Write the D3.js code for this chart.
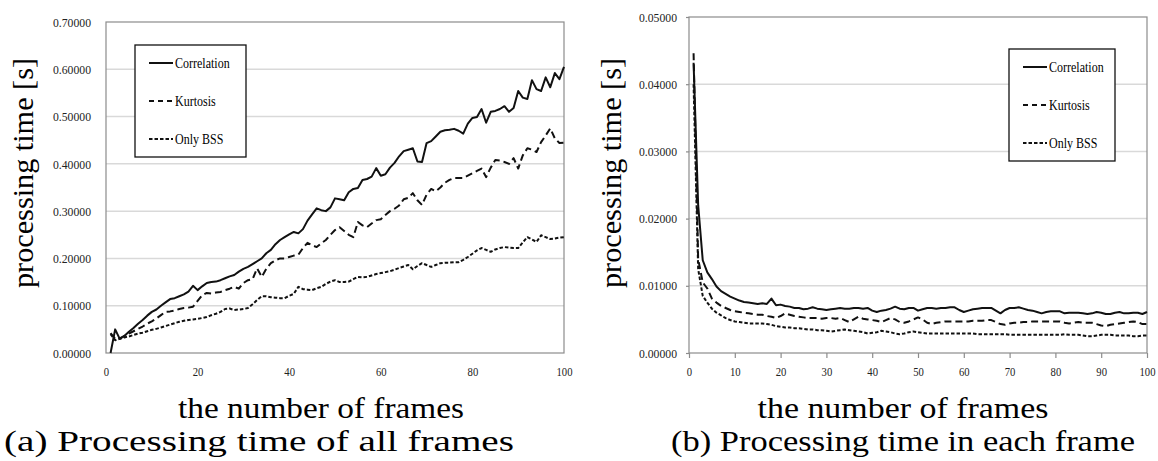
<!DOCTYPE html>
<html>
<head>
<meta charset="utf-8">
<script src="https://cdn.jsdelivr.net/npm/d3@7"></script>
<style>
body { margin: 0; background: #fff; }
</style>
</head>
<body>
<script>
var FONT = '"Liberation Serif", "Times New Roman", Times, "Nimbus Roman", "Nimbus Roman No9 L", Tinos, FreeSerif, "DejaVu Serif Condensed", "DejaVu Serif", serif';

var frames = d3.range(1, 101);
var seriesNames = ["Correlation", "Kurtosis", "Only BSS"];

// (a) cumulative processing time [s]
var allCorrelation = [0.000,0.050,0.030,0.036,0.045,0.053,0.062,0.070,0.079,0.087,
	0.092,0.100,0.107,0.114,0.116,0.120,0.124,0.130,0.142,0.133,
	0.141,0.148,0.150,0.151,0.154,0.158,0.162,0.165,0.172,0.178,
	0.182,0.188,0.194,0.200,0.211,0.218,0.230,0.239,0.245,0.251,
	0.256,0.253,0.262,0.280,0.293,0.306,0.302,0.300,0.308,0.327,
	0.325,0.323,0.340,0.347,0.349,0.366,0.368,0.373,0.391,0.375,
	0.378,0.392,0.402,0.416,0.427,0.430,0.433,0.405,0.404,0.444,
	0.448,0.458,0.468,0.471,0.472,0.474,0.470,0.464,0.485,0.497,
	0.499,0.516,0.487,0.510,0.512,0.516,0.522,0.510,0.518,0.554,
	0.540,0.537,0.577,0.558,0.554,0.583,0.562,0.592,0.579,0.605];
var allKurtosis = [0.042,0.030,0.031,0.036,0.041,0.046,0.051,0.056,0.062,0.067,
	0.073,0.080,0.087,0.088,0.090,0.093,0.095,0.096,0.098,0.110,
	0.122,0.127,0.126,0.128,0.129,0.133,0.136,0.140,0.136,0.148,
	0.154,0.156,0.179,0.161,0.178,0.190,0.196,0.200,0.200,0.203,
	0.206,0.208,0.222,0.233,0.228,0.224,0.232,0.239,0.250,0.260,
	0.266,0.258,0.250,0.245,0.277,0.270,0.266,0.274,0.281,0.283,
	0.292,0.300,0.305,0.312,0.325,0.328,0.338,0.323,0.313,0.335,
	0.347,0.342,0.350,0.360,0.366,0.370,0.370,0.370,0.375,0.380,
	0.385,0.390,0.372,0.392,0.408,0.407,0.404,0.400,0.412,0.390,
	0.418,0.433,0.430,0.425,0.446,0.460,0.475,0.454,0.444,0.445];
var allOnlyBSS = [0.040,0.027,0.030,0.033,0.035,0.038,0.041,0.043,0.046,0.049,
	0.051,0.054,0.057,0.060,0.063,0.066,0.068,0.070,0.071,0.072,
	0.074,0.076,0.080,0.083,0.087,0.093,0.094,0.091,0.092,0.093,
	0.095,0.103,0.112,0.120,0.120,0.118,0.117,0.116,0.116,0.121,
	0.125,0.140,0.135,0.134,0.133,0.137,0.140,0.146,0.151,0.154,
	0.150,0.150,0.151,0.156,0.161,0.160,0.161,0.164,0.167,0.169,
	0.171,0.173,0.176,0.180,0.183,0.186,0.177,0.184,0.190,0.186,
	0.182,0.186,0.190,0.191,0.191,0.192,0.192,0.197,0.203,0.210,
	0.217,0.222,0.218,0.214,0.219,0.222,0.224,0.223,0.222,0.222,
	0.234,0.245,0.240,0.235,0.249,0.245,0.241,0.242,0.244,0.245];

// (b) processing time per frame [s]
var eachCorrelation = [0.0432,0.0220,0.0138,0.0120,0.0110,0.0099,0.0092,0.0088,0.0084,0.0081,
	0.0078,0.0076,0.0075,0.0074,0.0073,0.0074,0.0073,0.0081,0.0071,0.0072,
	0.0070,0.0069,0.0067,0.0067,0.0065,0.0066,0.0068,0.0066,0.0065,0.0064,
	0.0065,0.0066,0.0067,0.0066,0.0066,0.0067,0.0067,0.0066,0.0067,0.0063,
	0.0061,0.0063,0.0064,0.0066,0.0069,0.0066,0.0065,0.0067,0.0067,0.0063,
	0.0065,0.0067,0.0067,0.0066,0.0067,0.0067,0.0068,0.0068,0.0064,0.0061,
	0.0063,0.0065,0.0066,0.0067,0.0067,0.0067,0.0063,0.0059,0.0064,0.0067,
	0.0067,0.0068,0.0066,0.0064,0.0063,0.0061,0.0059,0.0061,0.0062,0.0062,
	0.0062,0.0059,0.0060,0.0060,0.0060,0.0059,0.0058,0.0059,0.0061,0.0060,
	0.0058,0.0058,0.0060,0.0061,0.0059,0.0059,0.0060,0.0060,0.0058,0.0061];
var eachKurtosis = [0.0446,0.0140,0.0105,0.0096,0.0081,0.0075,0.0070,0.0067,0.0064,0.0062,
	0.0061,0.0060,0.0059,0.0058,0.0057,0.0057,0.0055,0.0054,0.0052,0.0055,
	0.0059,0.0057,0.0055,0.0054,0.0053,0.0052,0.0052,0.0052,0.0051,0.0052,
	0.0052,0.0051,0.0052,0.0049,0.0046,0.0050,0.0054,0.0051,0.0050,0.0049,
	0.0048,0.0046,0.0049,0.0052,0.0050,0.0046,0.0045,0.0047,0.0050,0.0053,
	0.0050,0.0045,0.0043,0.0045,0.0046,0.0047,0.0047,0.0047,0.0047,0.0047,
	0.0047,0.0048,0.0048,0.0048,0.0049,0.0049,0.0046,0.0043,0.0042,0.0044,
	0.0045,0.0045,0.0046,0.0046,0.0047,0.0047,0.0047,0.0047,0.0047,0.0047,
	0.0047,0.0045,0.0044,0.0045,0.0046,0.0045,0.0045,0.0045,0.0043,0.0041,
	0.0040,0.0042,0.0043,0.0044,0.0045,0.0046,0.0047,0.0046,0.0043,0.0043];
var eachOnlyBSS = [0.0400,0.0125,0.0085,0.0075,0.0066,0.0060,0.0056,0.0052,0.0049,0.0047,
	0.0046,0.0045,0.0044,0.0044,0.0044,0.0044,0.0043,0.0042,0.0040,0.0039,
	0.0038,0.0038,0.0037,0.0037,0.0036,0.0035,0.0035,0.0034,0.0034,0.0033,
	0.0032,0.0033,0.0034,0.0035,0.0034,0.0033,0.0032,0.0031,0.0029,0.0030,
	0.0031,0.0033,0.0032,0.0031,0.0029,0.0028,0.0029,0.0031,0.0032,0.0031,
	0.0030,0.0029,0.0029,0.0029,0.0029,0.0029,0.0029,0.0029,0.0029,0.0029,
	0.0029,0.0029,0.0028,0.0028,0.0028,0.0028,0.0028,0.0028,0.0028,0.0027,
	0.0027,0.0027,0.0027,0.0027,0.0027,0.0027,0.0027,0.0027,0.0027,0.0027,
	0.0027,0.0028,0.0027,0.0027,0.0027,0.0026,0.0025,0.0025,0.0026,0.0027,
	0.0027,0.0027,0.0026,0.0026,0.0026,0.0026,0.0025,0.0025,0.0026,0.0026];

var allTicksY = [0, 0.1, 0.2, 0.3, 0.4, 0.5, 0.6, 0.7];
var allTicksX = [0, 20, 40, 60, 80, 100];
var eachTicksY = [0, 0.01, 0.02, 0.03, 0.04, 0.05];
var eachTicksX = [0, 10, 20, 30, 40, 50, 60, 70, 80, 90, 100];

var dashes = [null, "7,4", "3.5,2"];

var svg = d3.select("body").append("svg")
	.attr("width", 1158)
	.attr("height", 461);

// squeeze text horizontally (the scanned figure is narrower than Times)
function squeeze(sel, k) {
	sel.each(function () {
		var w = this.getComputedTextLength();
		d3.select(this).attr("textLength", w * k).attr("lengthAdjust", "spacingAndGlyphs");
	});
}

function drawPanel(p) {
	var x = d3.scaleLinear().domain([0, 100]).range([p.left, p.right]);
	var y = d3.scaleLinear().domain([0, p.yMax]).range([p.bottom, p.top]);
	var g = svg.append("g");

	// gridlines
	g.selectAll("line.grid").data(p.yTicks.slice(1, -1)).enter().append("line")
		.attr("x1", p.left).attr("x2", p.right)
		.attr("y1", d => y(d)).attr("y2", d => y(d))
		.attr("stroke", "#d9d9d9").attr("stroke-width", 1.5);

	// plot frame
	g.append("rect")
		.attr("x", p.left).attr("y", p.top)
		.attr("width", p.right - p.left).attr("height", p.bottom - p.top)
		.attr("fill", "none").attr("stroke", "#8c8c8c").attr("stroke-width", 1.2);

	var yAxis = g.append("g")
		.attr("transform", "translate(" + p.left + ",0)")
		.call(d3.axisLeft(y).tickValues(p.yTicks).tickFormat(d3.format(".5f"))
			.tickSize(p.tick ? 3 : 0).tickPadding(p.tick ? 9 : 15));
	var xAxis = g.append("g")
		.attr("transform", "translate(0," + p.bottom + ")")
		.call(d3.axisBottom(x).tickValues(p.xTicks).tickFormat(d3.format("d"))
			.tickSize(p.tick ? 5 : 0).tickPadding(p.tick ? 9 : 14));
	[yAxis, xAxis].forEach(function (a) {
		a.select(".domain").remove();
		a.selectAll(".tick line").attr("stroke", "#8c8c8c").attr("stroke-width", 1.2);
		a.selectAll("text").style("font-family", FONT).style("font-size", "13px").attr("fill", "#222");
	});
	squeeze(yAxis.selectAll("text"), 0.9);
	squeeze(xAxis.selectAll("text"), 0.82);

	var line = d3.line().x((d, i) => x(frames[i])).y(d => y(d));
	p.series.forEach(function (s, i) {
		g.append("path")
			.datum(s)
			.attr("d", line)
			.attr("fill", "none")
			.attr("stroke", "#111")
			.attr("stroke-width", 2)
			.attr("stroke-linejoin", "round")
			.attr("stroke-dasharray", dashes[i]);
	});

	// legend
	var lg = g.append("g").attr("transform", "translate(" + p.legX + "," + p.legY + ")");
	lg.append("rect").attr("width", p.legW).attr("height", 112)
		.attr("fill", "#fff").attr("stroke", "#111").attr("stroke-width", 1.3);
	seriesNames.forEach(function (name, i) {
		var yy = 18 + i * 38;
		lg.append("line").attr("x1", 14).attr("x2", 38).attr("y1", yy).attr("y2", yy)
			.attr("stroke", "#111").attr("stroke-width", 2).attr("stroke-dasharray", i == 1 ? "5,4" : dashes[i]);
		var t = lg.append("text").attr("x", 40).attr("y", yy + 5)
			.style("font-family", FONT).style("font-size", "15px").text(name);
		squeeze(t, 0.8);
	});

	// axis titles
	svg.append("text")
		.attr("transform", "translate(" + p.titleX + ",173)rotate(-90)")
		.attr("text-anchor", "middle")
		.style("font-family", FONT).style("font-size", "30px")
		.attr("textLength", 230).attr("lengthAdjust", "spacingAndGlyphs")
		.text("processing time [s]");
	svg.append("text")
		.attr("x", p.xTitleX).attr("y", 418)
		.attr("text-anchor", "middle")
		.style("font-family", FONT).style("font-size", "29px")
		.attr("textLength", p.xTitleW).attr("lengthAdjust", "spacingAndGlyphs")
		.text("the number of frames");
	svg.append("text")
		.attr("x", p.capX).attr("y", 451)
		.attr("text-anchor", "middle")
		.style("font-family", FONT).style("font-size", "29px")
		.attr("textLength", p.capW).attr("lengthAdjust", "spacingAndGlyphs")
		.text(p.caption);
}

drawPanel({
	left: 106, right: 564, top: 22, bottom: 353, yMax: 0.7,
	yTicks: allTicksY, xTicks: allTicksX, tick: false,
	series: [allCorrelation, allKurtosis, allOnlyBSS],
	legX: 135, legY: 45, legW: 111,
	titleX: 33, xTitleX: 321, xTitleW: 286,
	capX: 259, capW: 510, caption: "(a) Processing time of all frames"
});
drawPanel({
	left: 689, right: 1147, top: 17, bottom: 353, yMax: 0.05,
	yTicks: eachTicksY, xTicks: eachTicksX, tick: true,
	series: [eachCorrelation, eachKurtosis, eachOnlyBSS],
	legX: 1009, legY: 49, legW: 106,
	titleX: 621, xTitleX: 903, xTitleW: 291,
	capX: 903, capW: 464, caption: "(b) Processing time in each frame"
});
</script>
</body>
</html>
